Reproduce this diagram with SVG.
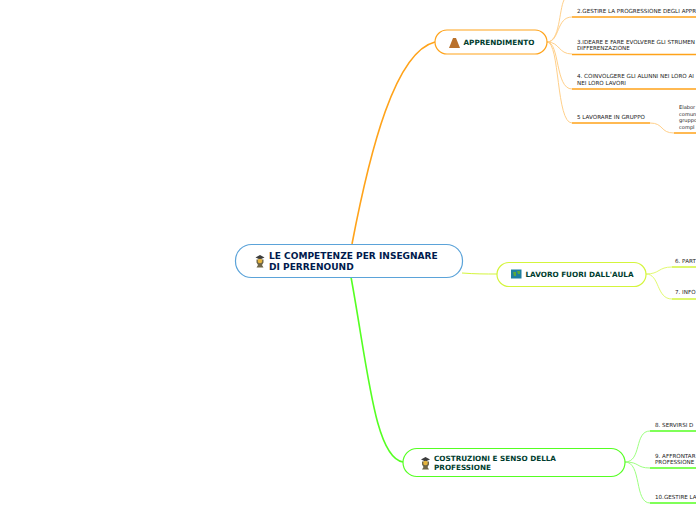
<svg xmlns="http://www.w3.org/2000/svg" width="696" height="520" viewBox="0 0 696 520">
<style>
text{font-family:"DejaVu Sans",Verdana,sans-serif}
.leaf{font-size:5.6px;fill:#222}
.small{font-size:5.1px;fill:#222}
.main{font-size:7.25px;font-weight:bold;fill:#003d2e}
.root{font-size:9.05px;font-weight:bold;fill:#001a4d}
.node{fill:#fff;stroke-width:1.2}
.c{fill:none}
.o{stroke:#ffa31a}.ol{stroke:#ffd08a}
.y{stroke:#d4f53c}.yl{stroke:#e2fa70}
.g{stroke:#55ff22}.gl{stroke:#9dff80}
</style>
<defs>
<g id="grad-icon">
<path d="M0 1.500L4.500-1 9 1.500 4.500 3.500z" fill="#3d3d3d"/>
<path d="M1 3.500h7v3l-1.500 2.500 1.500 2.500h-7l1.500-2.500-1.500-2.500z" fill="#6f6648"/>
<circle cx="4.500" cy="5" r="2.300" fill="#e6b43c"/>
</g>
</defs>
<rect width="696" height="520" fill="#fff"/>
<g id="connectors" class="c">
<path class="o" stroke-width="1.6" d="M352 244C370 150 395 52 435 42"/>
<path class="g" stroke-width="1.6" d="M351 277C368 370 375 458 403 462"/>
<path class="y" stroke-width="1" d="M462 273C475 274 485 274 497 274"/>
<g stroke-width="1">
<path class="ol" d="M547 42C560 42 559 10 564 0"/>
<path class="ol" d="M547 42C560 42 556 17 572 17"/>
<path class="ol" d="M547 42C560 42 558 54 572 54"/>
<path class="ol" d="M547 42C560 42 555 89 572 89"/>
<path class="ol" d="M547 42C560 42 556 123 572 123"/>
<path class="ol" d="M650 123C664 123 660 133 674 133"/>
<path class="yl" d="M646 274C660 274 658 267 672 267"/>
<path class="yl" d="M646 274C660 274 656 299 672 299"/>
<path class="gl" d="M625 462C642 462 634 431 650 431"/>
<path class="gl" d="M625 462C640 462 636 468 650 468"/>
<path class="gl" d="M625 462C642 462 634 503 650 503"/>
</g>
<g stroke-width="1.6">
<path class="o" d="M572 17H696M572 54.500H696M572 89H696M572 123H650M674 133H696"/>
<path class="y" d="M672 267H696M672 299H696"/>
<path class="g" d="M650 431H696M650 468H696M650 503H696"/>
</g>
</g>
<g id="root"><rect class="node" x="235.500" y="244.500" width="227" height="33" rx="16" stroke="#5ba3d9"/>
<use href="#grad-icon" x="255.500" y="256"/>
<text class="root" x="269" y="259">LE COMPETENZE PER INSEGNARE</text><text class="root" x="269" y="270">DI PERRENOUND</text></g>
<g id="apprendimento"><rect class="node" x="435" y="30" width="112" height="24" rx="12" stroke="#ffa31a"/>
<path d="M449 48l4-10h3l4 10z" fill="#b9702a"/>
<text class="main" x="463.500" y="45">APPRENDIMENTO</text></g>
<g id="leaf2"><text class="leaf" x="577" y="13">2.GESTIRE LA PROGRESSIONE DEGLI APPR</text></g>
<g id="leaf3"><text class="leaf" x="577" y="44">3.IDEARE E FARE EVOLVERE GLI STRUMEN</text><text class="leaf" x="577" y="50">DIFFERENZAZIONE</text></g>
<g id="leaf4"><text class="leaf" x="577" y="78">4. COINVOLGERE GLI ALUNNI NEI LORO AI</text><text class="leaf" x="577" y="85">NEI LORO LAVORI</text></g>
<g id="leaf5"><text class="leaf" x="577" y="119">5 LAVORARE IN GRUPPO</text></g>
<g id="leaf5a"><text class="small" x="679" y="109">Elabor</text><text class="small" x="679" y="116">comun</text><text class="small" x="679" y="122">gruppo</text><text class="small" x="679" y="129">compl</text></g>
<g id="lavoro"><rect class="node" x="497" y="262.500" width="149" height="24" rx="12" stroke="#d4f53c"/>
<rect x="511" y="269.500" width="10.500" height="9" fill="#1f7f9f"/><path d="M513 272h3v4h-2zM517 271h3v3h-2z" fill="#5aa83c"/>
<text class="main" x="525.500" y="277">LAVORO FUORI DALL'AULA</text></g>
<g id="leaf6"><text class="leaf" x="675" y="263">6. PART</text></g>
<g id="leaf7"><text class="leaf" x="675" y="294">7. INFO</text></g>
<g id="costruzioni"><rect class="node" x="403" y="448.500" width="222" height="28" rx="14" stroke="#55ff22"/>
<use href="#grad-icon" x="421" y="458"/>
<text class="main" x="434" y="461">COSTRUZIONI E SENSO DELLA</text><text class="main" x="434" y="470">PROFESSIONE</text></g>
<g id="leaf8"><text class="leaf" x="655" y="427">8. SERVIRSI D</text></g>
<g id="leaf9"><text class="leaf" x="655" y="458">9. AFFRONTAR</text><text class="leaf" x="655" y="464">PROFESSIONE</text></g>
<g id="leaf10"><text class="leaf" x="655" y="499">10.GESTIRE LA</text></g>
</svg>
